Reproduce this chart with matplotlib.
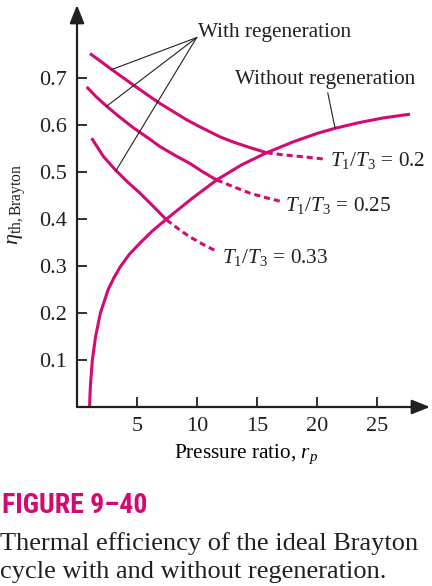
import numpy as np
import matplotlib as mpl
import matplotlib.pyplot as plt

# ------------------------------------------------------------
# Data (pressure ratio rp, thermal efficiency)
# ------------------------------------------------------------
rp_noregen = [1.05, 1.08, 1.13, 1.28, 1.55, 1.95, 2.6, 3.1, 3.65, 4.4, 5.3,
              6.3, 7.47, 9.5, 11.64, 13.7, 15.8, 18.0, 20.0, 21.5, 23.5,
              25.5, 27.75]
eta_noregen = [0.0, 0.025, 0.05, 0.1, 0.15, 0.2, 0.25, 0.276, 0.3, 0.326,
               0.35, 0.375, 0.40, 0.442, 0.483, 0.515, 0.541, 0.564, 0.582,
               0.593, 0.605, 0.615, 0.623]

# with regeneration: solid part (up to the crossing) and dashed part
rp_r20 = [1.08, 2.0, 2.89, 4.7, 6.78, 9.14, 10.25, 11.9, 13.0, 14.4, 15.8]
eta_r20 = [0.752, 0.735, 0.718, 0.685, 0.648, 0.611, 0.596, 0.575, 0.564,
           0.552, 0.541]
rp_r20_d = [15.8, 17.2, 18.6, 20.8]
eta_r20_d = [0.541, 0.5365, 0.533, 0.527]

rp_r25 = [0.81, 1.6, 2.47, 3.5, 4.7, 6.0, 6.92, 8.2, 9.42, 10.5, 11.64]
eta_r25 = [0.681, 0.660, 0.640, 0.618, 0.594, 0.571, 0.554, 0.535, 0.518,
           0.500, 0.483]
rp_r25_d = [11.64, 13.0, 14.4, 15.8, 17.06]
eta_r25_d = [0.483, 0.469, 0.455, 0.445, 0.437]

rp_r33 = [1.22, 2.2, 3.25, 4.25, 5.25, 6.35, 7.47]
eta_r33 = [0.572, 0.533, 0.503, 0.478, 0.455, 0.427, 0.398]
rp_r33_d = [7.47, 8.5, 9.4, 10.5, 11.5]
eta_r33_d = [0.398, 0.378, 0.362, 0.346, 0.333]

ratio_labels = ["0.2", "0.25", "0.33"]
xticks = [5, 10, 15, 20, 25]
yticks = [0.1, 0.2, 0.3, 0.4, 0.5, 0.6, 0.7]

# ------------------------------------------------------------
# Style
# ------------------------------------------------------------
MAG = "#D40A72"
INK = "#231f20"
mpl.rcParams.update({
    "font.family": "Liberation Serif",
    "font.size": 15,
    "mathtext.fontset": "custom",
    "mathtext.rm": "Liberation Serif",
    "mathtext.it": "Liberation Serif:italic",
    "text.color": INK,
})

fig = plt.figure(figsize=(4.32, 5.86), dpi=100)
ax = fig.add_axes([77 / 432, 1 - 407 / 586, 353 / 432, 402 / 586])
ax.set_xlim(0, 353 / 12)
ax.set_ylim(0, 402 / 470)
for s in ax.spines.values():
    s.set_visible(False)
ax.patch.set_alpha(0)

# axes with arrow heads
arrow = dict(arrowstyle="-|>,head_length=0.55,head_width=0.22", lw=1.6,
             color=INK, mutation_scale=20, shrinkA=0, shrinkB=0)
ax.annotate("", xy=(1, 0), xytext=(0, 0), xycoords="axes fraction", arrowprops=arrow)
ax.annotate("", xy=(0, 1), xytext=(0, 0), xycoords="axes fraction", arrowprops=arrow)

ax.set_xticks(xticks)
ax.set_yticks(yticks)
ax.set_xticklabels([str(t) for t in xticks])
ax.set_yticklabels([f"{t:.1f}" for t in yticks])
ax.tick_params(direction="in", length=7, width=1.3, color=INK,
               labelsize=16, labelcolor=INK, pad=7)

lw = 2.2
line_kw = dict(color=MAG, lw=lw, solid_capstyle="butt", solid_joinstyle="round")
ax.plot(rp_noregen, eta_noregen, **line_kw)
for rp_s, eta_s, rp_d, eta_d in [(rp_r20, eta_r20, rp_r20_d, eta_r20_d),
                                 (rp_r25, eta_r25, rp_r25_d, eta_r25_d),
                                 (rp_r33, eta_r33, rp_r33_d, eta_r33_d)]:
    ax.plot(rp_s, eta_s, **line_kw)
    ax.plot(rp_d, eta_d, color=MAG, lw=lw, dashes=(2.0, 1.3))

# pointer lines
apex = (9.97, 0.786)
for rp_p, eta_p in [(2.89, 0.718), (2.47, 0.640), (3.25, 0.503)]:
    ax.plot([apex[0], rp_p], [apex[1], eta_p], color=INK, lw=0.8)
ax.plot([20.9, 21.5], [0.668, 0.594], color=INK, lw=0.8)

ax.text(10.08, 0.787, "With regeneration", ha="left", va="baseline", fontsize=15.3)
ax.text(13.17, 0.687, "Without regeneration", ha="left", va="baseline", fontsize=15.3)
for (x, y), lab in zip([(21.1, 0.513), (17.3, 0.418), (12.1, 0.306)], ratio_labels):
    ax.text(x, y, r"$T_1/T_3$ = " + lab, ha="left", va="baseline", fontsize=15.3)

ax.set_xlabel(r"Pressure ratio, $r_p$", fontsize=15.3)
ax.xaxis.set_label_coords((246 - 77) / 353, -36 / 402)
fig.text(17 / 432, 1 - 204 / 586, r"$\eta_{\mathrm{th,Brayton}}$", rotation=90,
         ha="center", va="center", fontsize=16)

# caption
fig.text(2 / 432, 1 - 513 / 586, "FIGURE 9–40", color=MAG, fontsize=20,
         fontweight="bold",
         family=["Roboto Condensed", "Barlow Condensed", "Archivo Narrow",
                 "Liberation Sans Narrow", "Open Sans Condensed", "DejaVu Sans"],
         ha="left", va="baseline")
fig.text(0, 1 - 550 / 586, "Thermal efficiency of the ideal Brayton",
         fontsize=19, ha="left", va="baseline")
fig.text(0, 1 - 578 / 586, "cycle with and without regeneration.",
         fontsize=19, ha="left", va="baseline")

fig.savefig("out.png", dpi=100)
